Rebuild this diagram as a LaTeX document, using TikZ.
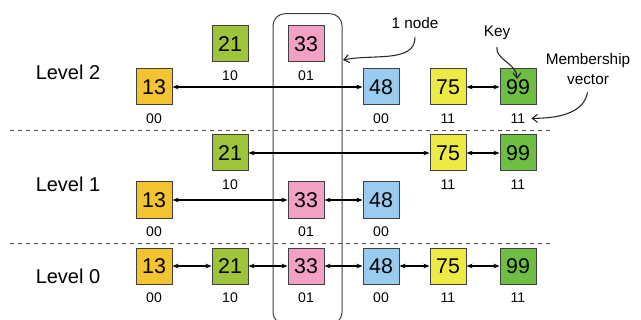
\documentclass[tikz,border=0pt]{standalone}
\usepackage{fontspec}
\setmainfont{Liberation Sans}
\usetikzlibrary{arrows.meta}
\definecolor{cthirteen}{HTML}{F4C430}
\definecolor{ctwentyone}{HTML}{9DC43B}
\definecolor{cthirtythree}{HTML}{F2A0C6}
\definecolor{cfortyeight}{HTML}{99CCEE}
\definecolor{cseventyfive}{HTML}{EEEA45}
\definecolor{cninetynine}{HTML}{6DBE42}
\begin{document}
\begin{tikzpicture}[x=0.75pt, y=-0.75pt,
  every node/.style={font=\fontsize{10.5}{12}\selectfont},
  every label/.style={label distance=2.5pt},
  keybox/.style={draw=black!75, line width=0.75pt, minimum size=27pt, inner sep=0pt,
    font=\fontsize{16}{18}\selectfont},
  lvl/.style={font=\fontsize{15}{17}\selectfont},
  note/.style={font=\fontsize{11.5}{15.5}\selectfont, align=center},
  link/.style={{Stealth[length=4.5pt,width=3.5pt]}-{Stealth[length=4.5pt,width=3.5pt]}, line width=1.1pt},
  pointer/.style={-{Straight Barb[length=4pt,width=6pt]}, line width=0.8pt, black!85},
  sep/.style={dashed, black!70, line width=0.75pt}]
\useasboundingbox (0,0) rectangle (641,320);
% the tower of one node
\node[draw=black!75, line width=0.75pt, rounded corners=9pt, minimum width=51.75pt, minimum height=233pt] (tower) at (307.5,169) {};
\coordinate (edge) at (343,60);
% levels
\draw[sep] (10,131) -- (552,131);
\draw[sep] (10,243) -- (552,243);
\node[lvl] (lv2) at (68,72) {Level 2};
\node[lvl] (lv1) at (68,184) {Level 1};
\node[lvl] (lv0) at (68,276) {Level 0};
% level 2
\node[keybox,fill=cthirteen,label=below:00] (ta) at (154,87) {13};
\node[keybox,fill=ctwentyone,label=below:10] (tb) at (230,44) {21};
\node[keybox,fill=cthirtythree,label=below:01] (tc) at (306,44) {33};
\node[keybox,fill=cfortyeight,label=below:00] (td) at (381,87) {48};
\node[keybox,fill=cseventyfive,label=below:11] (te) at (448,87) {75};
\node[keybox,fill=cninetynine,label={[name=mv]below:11}] (tf) at (518,87) {99};
\draw[link] (ta) -- (td);
\draw[link] (te) -- (tf);
% level 1
\node[keybox,fill=ctwentyone,label=below:10] (mb) at (230,153) {21};
\node[keybox,fill=cseventyfive,label=below:11] (me) at (448,153) {75};
\node[keybox,fill=cninetynine,label=below:11] (mf) at (518,153) {99};
\node[keybox,fill=cthirteen,label=below:00] (ma) at (154,200) {13};
\node[keybox,fill=cthirtythree,label=below:01] (mc) at (306,200) {33};
\node[keybox,fill=cfortyeight,label=below:00] (md) at (381,200) {48};
\draw[link] (mb) -- (me);
\draw[link] (me) -- (mf);
\draw[link] (ma) -- (mc);
\draw[link] (mc) -- (md);
% level 0
\node[keybox,fill=cthirteen,label=below:00] (ba) at (154,266) {13};
\node[keybox,fill=ctwentyone,label=below:10] (bb) at (230,266) {21};
\node[keybox,fill=cthirtythree,label=below:01] (bc) at (306,266) {33};
\node[keybox,fill=cfortyeight,label=below:00] (bd) at (381,266) {48};
\node[keybox,fill=cseventyfive,label=below:11] (be) at (448,266) {75};
\node[keybox,fill=cninetynine,label=below:11] (bf) at (518,266) {99};
\draw[link] (ba) -- (bb);
\draw[link] (bb) -- (bc);
\draw[link] (bc) -- (bd);
\draw[link] (bd) -- (be);
\draw[link] (be) -- (bf);
% notes
\node[note] (one) at (415,23) {1 node};
\node[note] (key) at (497,33) {Key};
\node[note] (member) at (588,69) {Membership\\vector};
\coordinate (keytip) at (517,79);
\draw[pointer, shorten <=3pt] (one.south) to[out=-90, in=12] (edge);
\draw[pointer, shorten <=2pt] (key.south) to[out=-95, in=90] (keytip);
\draw[pointer, shorten <=2pt, shorten >=1pt] (member.south) to[out=-100, in=0] (mv.east);
\end{tikzpicture}
\end{document}
